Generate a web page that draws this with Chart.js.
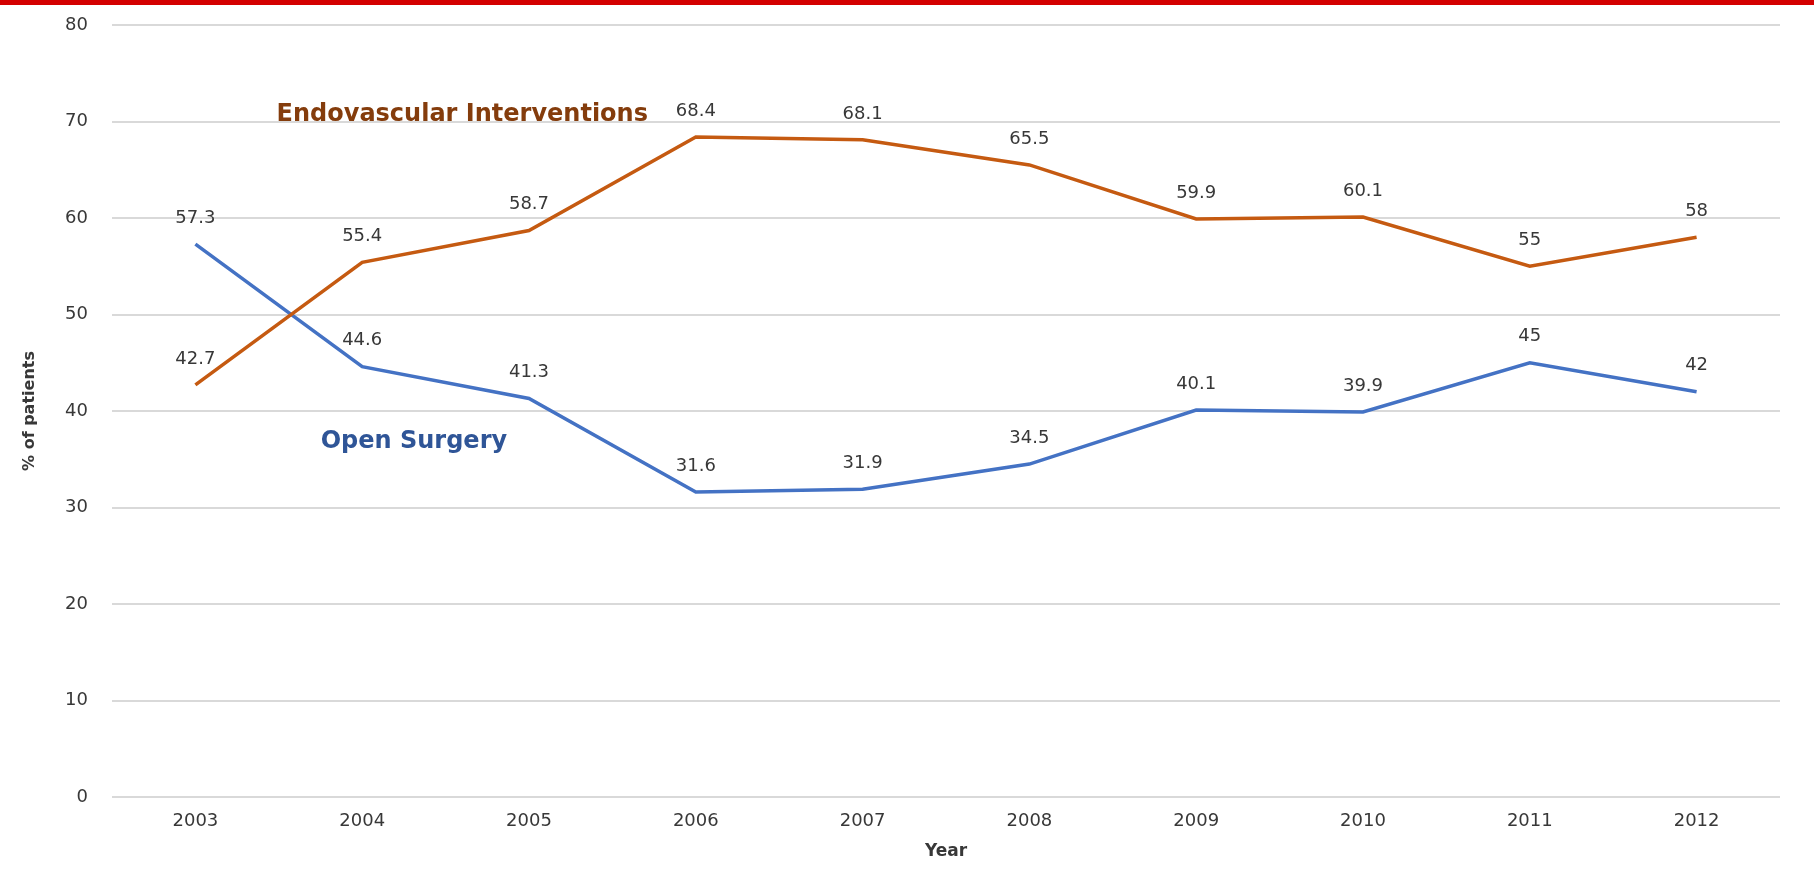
<!DOCTYPE html>
<html>
<head>
<meta charset="utf-8">
<script src="https://cdn.jsdelivr.net/npm/chart.js@4"></script>
<style>
  html, body { margin: 0; padding: 0; background: #fff; }
  #wrap { position: relative; width: 1814px; height: 869px; }
  #topbar { position: absolute; left: 0; top: 0; width: 1814px; height: 5px; background: #d40000; }
</style>
</head>
<body>
<div id="wrap">
  <canvas id="chart" width="1814" height="869"></canvas>
  <div id="topbar"></div>
</div>
<script>
// values
var years = ['2003', '2004', '2005', '2006', '2007', '2008', '2009', '2010', '2011', '2012'];
var endovascular = [42.7, 55.4, 58.7, 68.4, 68.1, 65.5, 59.9, 60.1, 55, 58];
var openSurgery = [57.3, 44.6, 41.3, 31.6, 31.9, 34.5, 40.1, 39.9, 45, 42];
var yTicks = [0, 10, 20, 30, 40, 50, 60, 70, 80];

// series names written inside the plot, placed in data units (category index, y value)
var seriesNotes = [
  { text: 'Endovascular Interventions', at: [1.6, 70.7], color: '#843c0c', size: 24 },
  { text: 'Open Surgery', at: [1.31, 36.8], color: '#2f5597', size: 24 }
];

var textColor = '#383838';

// draws the value above each point
var pointValues = {
  id: 'pointValues',
  afterDatasetsDraw: function (chart) {
    var ctx = chart.ctx;
    ctx.save();
    ctx.font = '18px "DejaVu Sans"';
    ctx.fillStyle = textColor;
    ctx.textAlign = 'center';
    ctx.textBaseline = 'middle';
    chart.data.datasets.forEach(function (ds, d) {
      chart.getDatasetMeta(d).data.forEach(function (pt, i) {
        ctx.fillText(String(ds.data[i]), pt.x, pt.y - 26);
      });
    });
    ctx.restore();
  }
};

var seriesNames = {
  id: 'seriesNames',
  afterDatasetsDraw: function (chart) {
    var ctx = chart.ctx;
    var xs = chart.scales.x, ys = chart.scales.y;
    ctx.save();
    ctx.textAlign = 'center';
    ctx.textBaseline = 'middle';
    seriesNotes.forEach(function (n) {
      ctx.font = 'bold ' + n.size + 'px "DejaVu Sans"';
      ctx.fillStyle = n.color;
      ctx.fillText(n.text, xs.getPixelForValue(n.at[0]), ys.getPixelForValue(n.at[1]));
    });
    ctx.restore();
  }
};

new Chart(document.getElementById('chart'), {
  type: 'line',
  data: {
    labels: years,
    datasets: [
      { label: 'Endovascular Interventions', data: endovascular, borderColor: '#c55a11', borderWidth: 3.5, pointRadius: 0, tension: 0, fill: false },
      { label: 'Open Surgery', data: openSurgery, borderColor: '#4472c4', borderWidth: 3.5, pointRadius: 0, tension: 0, fill: false }
    ]
  },
  options: {
    responsive: false,
    animation: false,
    layout: { padding: { top: 25, right: 34, left: 0, bottom: 0 } },
    plugins: { legend: { display: false }, tooltip: { enabled: false } },
    scales: {
      x: {
        offset: true,
        grid: { display: false, drawTicks: false },
        border: { display: false },
        ticks: { color: textColor, padding: 14, font: { family: 'DejaVu Sans', size: 18 }, maxRotation: 0 },
        title: { display: true, text: 'Year', color: textColor, font: { family: 'DejaVu Sans', size: 17, weight: 'bold' }, padding: { top: 0, bottom: 7 } },
        afterFit: function (scale) { scale.height = 72; }
      },
      y: {
        min: 0,
        max: 80,
        afterBuildTicks: function (scale) { scale.ticks = yTicks.map(function (v) { return { value: v }; }); },
        grid: { color: '#d9d9d9', lineWidth: 2, drawTicks: false },
        border: { display: false },
        ticks: { color: textColor, padding: 24, font: { family: 'DejaVu Sans', size: 18 } },
        title: { display: true, text: '% of patients', color: textColor, font: { family: 'DejaVu Sans', size: 16, weight: 'bold' }, padding: { top: 20, bottom: 0 } },
        afterFit: function (scale) {
          scale.width = 112;
          // tick padding is horizontal only here, keep it out of the vertical layout
          scale.paddingTop = 0;
          scale.paddingBottom = 0;
        }
      }
    }
  },
  plugins: [pointValues, seriesNames]
});
</script>
</body>
</html>
